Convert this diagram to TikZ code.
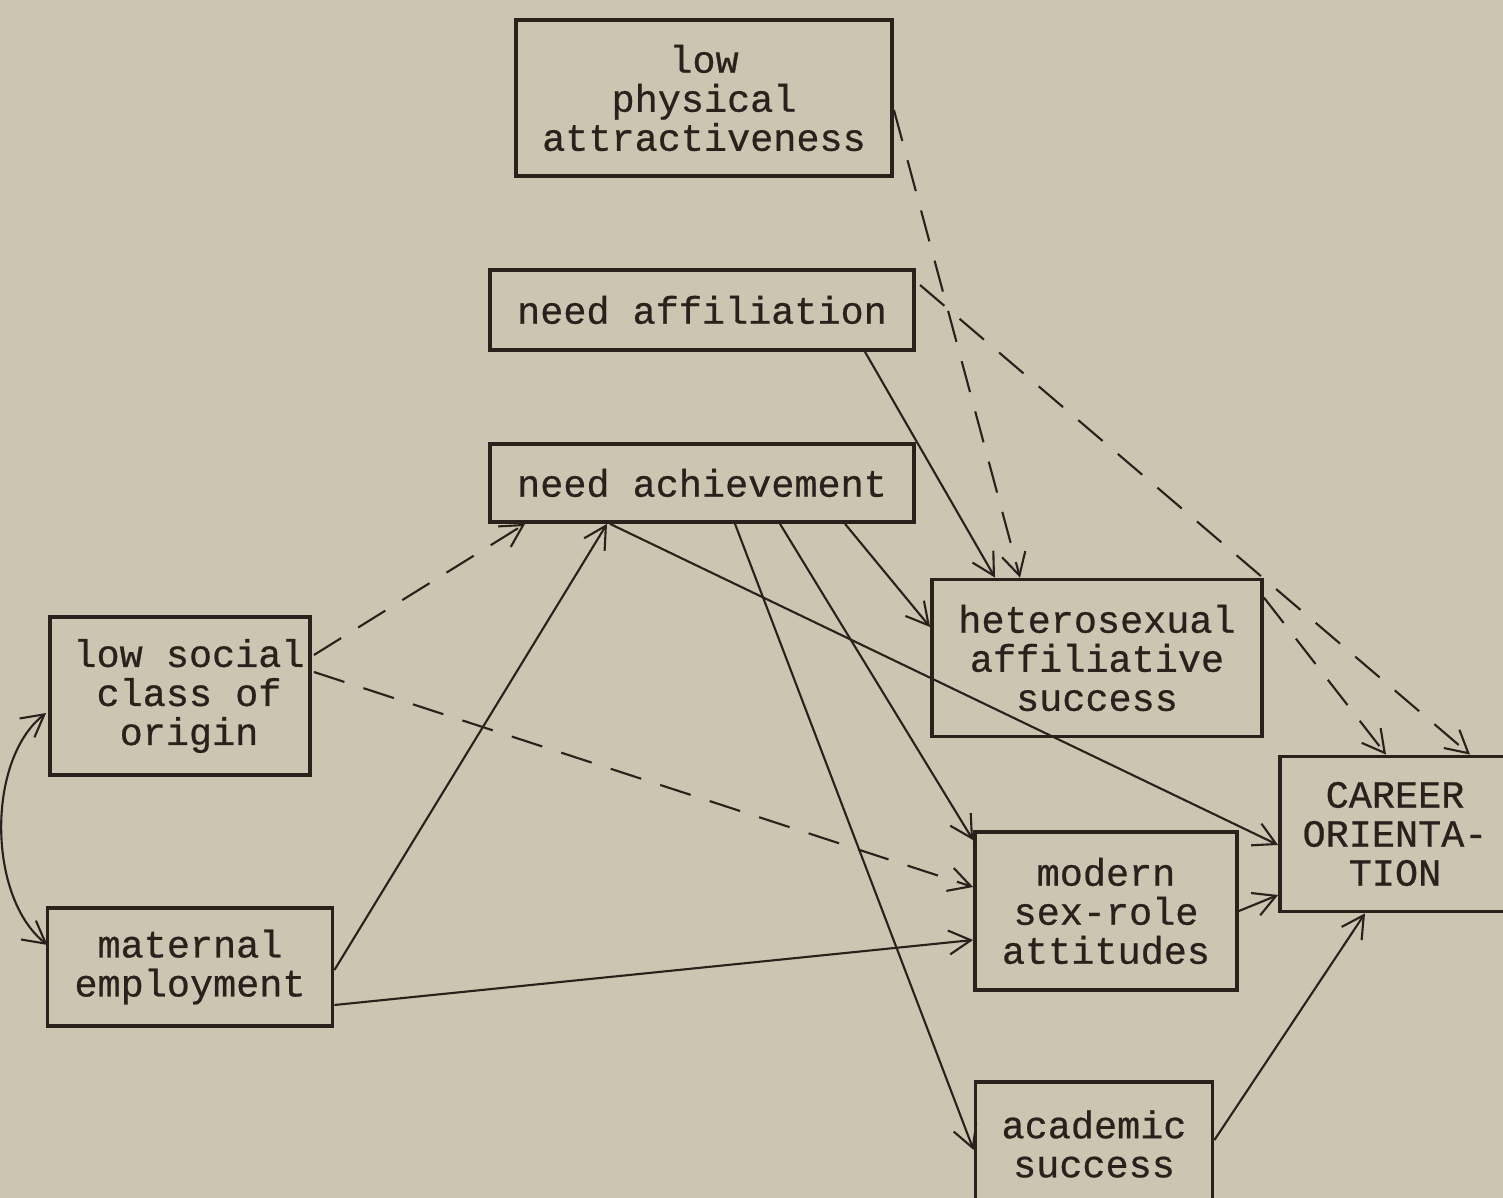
\documentclass[tikz,border=0pt]{standalone}
\usepackage{fontspec}
\setmonofont[FakeBold=0.6]{Liberation Mono}
\usetikzlibrary{arrows.meta}
\definecolor{paperTone}{HTML}{CBC5B1}
\definecolor{inkTone}{HTML}{2B201C}

\begin{document}
\begin{tikzpicture}
[x=0.01cm,y=-0.01cm,>={Straight Barb[length=2.2mm,width=2.4mm]},
  boxDecorate/.style={shape=rectangle,draw=inkTone,line width=1.05pt,inner sep=0pt,
    align=center,text=inkTone,font=\ttfamily\fontsize{10.95}{11.1}\selectfont},%
  lineDecorate/.style={draw=inkTone,line width=0.6pt,->},%
  dashDecorate/.style={lineDecorate,dash pattern=on 3.2mm off 2mm}]
\useasboundingbox (0,0) rectangle (1503,1198);
\clip (0,0) rectangle (1503,1198);
\fill[paperTone] (0,0) rectangle (1503,1198);
%% nodes or boxes
\foreach \nodename/\x/\y/\w/\h/\txt in {
  phys/704/98/3.76/1.56/{low\\physical\\attractiveness},
  naff/702/310/4.24/0.80/{need affiliation},
  nach/702/483/4.24/0.78/{need achievement},
  lsc/180/696/2.60/1.58/{\hspace*{0.18cm}low social\\\hspace*{0.18cm}class of\\\hspace*{0.18cm}origin},
  mat/190/967/2.85/1.18/{maternal\\employment},
  het/1097/658/3.30/1.57/{heterosexual\\affiliative\\success},
  mod/1106/911/2.62/1.58/{modern\\sex-role\\attitudes},
  car/1395/834/2.30/1.55/{CAREER\\ORIENTA-\\TION},
  acad/1094/1144/2.37/1.24/{academic\\success}} {
  \node (\nodename) at (\x,\y) [boxDecorate,minimum width=\w cm,minimum height=\h cm] {\txt};
}
%% edges or arrows
\foreach \a/\ax/\ay/\b/\bx/\by/\kind in {
  phys.east/0/12/het.north/-77/0/dashDecorate,
  naff.east/4/-25/car.north/75/0/dashDecorate,
  het.north east/0/20/car.north/-9/0/dashDecorate,
  lsc.east/2/-41/nach.south west/37/0/dashDecorate,
  lsc.east/2/-24/mod.west/0/-24/dashDecorate,
  naff.south/163/0/het.north/-102/0/lineDecorate,
  nach.south/143/0/het.west/0/-31/lineDecorate,
  nach.south/78/0/mod.north west/0/10/lineDecorate,
  nach.south/33/0/acad.west/0/6/lineDecorate,
  nach.south/-92/0/car.west/0/11/lineDecorate,
  mat.east/0/3/nach.south/-95/0/lineDecorate,
  mat.east/0/38/mod.west/0/29/lineDecorate,
  mod.east/0/0/car.west/0/61/lineDecorate,
  acad.east/0/-4/car.south/-30/0/lineDecorate} {
  \draw[\kind] ([shift={(\ax,\ay)}]\a) -- ([shift={(\bx,\by)}]\b);
}
\draw[lineDecorate,<->] ([shift={(-2,17)}]lsc.west)
  .. controls +(-60,47) and +(-60,-47) .. ([shift={(2,-22)}]mat.west);
\end{tikzpicture}
\end{document}
